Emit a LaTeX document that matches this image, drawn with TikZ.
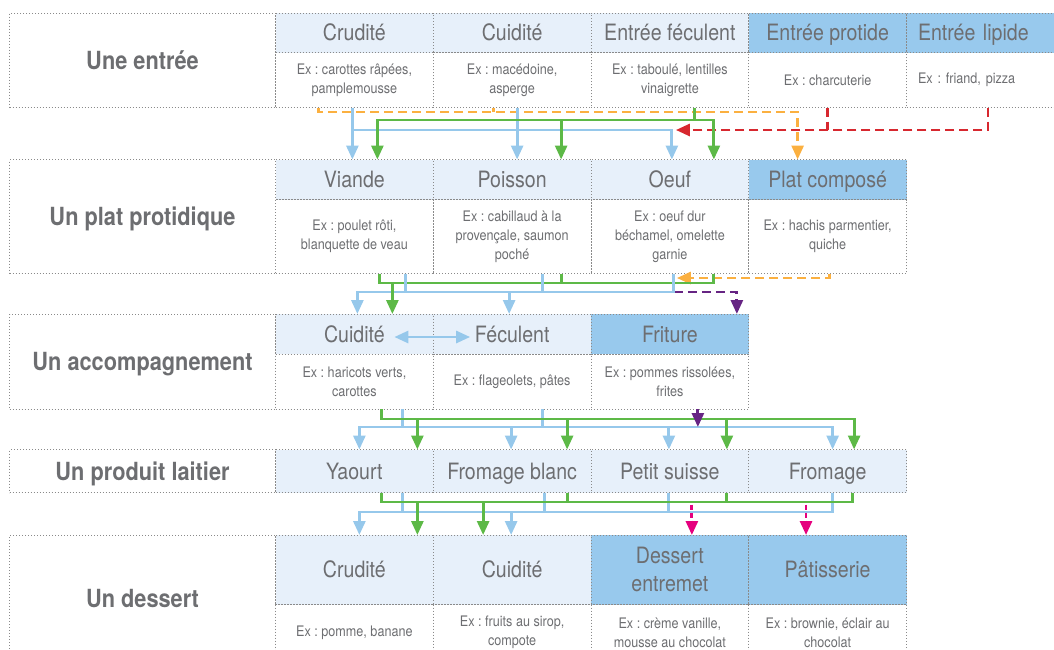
\documentclass[tikz,border=0pt]{standalone}
\usepackage{fontspec}
\setmainfont{TeX Gyre Heros}[FakeStretch=0.87]
\usetikzlibrary{arrows.meta, positioning}
\frenchspacing

\definecolor{txtgrey}{HTML}{6D6E71}
\definecolor{palecell}{HTML}{E7F0FA}
\definecolor{bluecell}{HTML}{98C9ED}
\definecolor{skyline}{HTML}{96C8EB}
\definecolor{grnline}{HTML}{5DB947}
\definecolor{orgline}{HTML}{FBB040}
\definecolor{redline}{HTML}{D7282F}
\definecolor{purpline}{HTML}{662483}
\definecolor{pinkline}{HTML}{E5007E}
\definecolor{dotgrey}{HTML}{8A8A8A}

\begin{document}
\begin{tikzpicture}[
    x=1pt, y=-1pt,
    cell/.style={rectangle, draw=dotgrey, line width=0.9pt, dash pattern=on 0.9pt off 2.1pt, inner sep=0pt, outer sep=0pt, minimum width=157.75pt, align=center, text=txtgrey},
    hd/.style={cell, fill=palecell, text height=21.2pt, text depth=5pt, font=\fontsize{22.5}{28}\selectfont},
    hdd/.style={hd, fill=bluecell},
    ex/.style={cell, font=\fontsize{14.5}{19}\selectfont},
    lab/.style={cell, anchor=north west, minimum width=266pt, text height=23.5pt, text depth=5.5pt, font=\fontsize{25}{30}\selectfont\bfseries},
    ln/.style={line width=2.8pt, >={Triangle[length=14pt,width=12pt]}},
    skyln/.style={ln, draw=skyline},
    grnln/.style={ln, draw=grnline},
    orgln/.style={ln, draw=orgline, dash pattern=on 9pt off 5pt},
    redln/.style={ln, draw=redline, dash pattern=on 9pt off 5pt},
    purln/.style={ln, draw=purpline, dash pattern=on 9pt off 5pt},
    pinkln/.style={ln, draw=pinkline, dash pattern=on 5pt off 3pt}
  ]
    \useasboundingbox (0,0) rectangle (1054,649);

    % Entree row
    \begin{scope}[hd/.append style={minimum height=39.5pt}, ex/.append style={minimum height=55pt}]
      \node[lab, minimum height=94.5pt] (entree) at (9.5,13) {Une entrée};
      \node[hd, anchor=north west] (crudA) at (275.5,13) {Crudité};
      \node[hd, right=0pt of crudA] (cuidA) {Cuidité};
      \node[hd, right=0pt of cuidA] (fecA) {Entrée féculent};
      \node[hdd, right=0pt of fecA] (protA) {Entrée protide};
      \node[hdd, right=0pt of protA, text width=134.75pt, inner xsep=11.5pt, align=left] (lipA) {Entrée lipide};
      \node[ex, below=0pt of crudA] (crudAx) {Ex : carottes râpées,\\pamplemousse};
      \node[ex, below=0pt of cuidA] (cuidAx) {Ex : macédoine,\\asperge};
      \node[ex, below=0pt of fecA] (fecAx) {Ex : taboulé, lentilles\\vinaigrette};
      \node[ex, below=0pt of protA] (protAx) {Ex : charcuterie};
      \node[ex, below=0pt of lipA, text width=134.75pt, inner xsep=11.5pt, align=left] (lipAx) {Ex : friand, pizza};
    \end{scope}

    % Plat row
    \begin{scope}[hd/.append style={minimum height=40pt}, ex/.append style={minimum height=74pt}]
      \node[lab, minimum height=114pt] (plat) at (9.5,159.5) {Un plat protidique};
      \node[hd, anchor=north west] (viande) at (275.5,159.5) {Viande};
      \node[hd, right=0pt of viande] (poisson) {Poisson};
      \node[hd, right=0pt of poisson] (oeuf) {Oeuf};
      \node[hdd, right=0pt of oeuf] (compose) {Plat composé};
      \node[ex, below=0pt of viande] (viandex) {Ex : poulet rôti,\\blanquette de veau};
      \node[ex, below=0pt of poisson] (poissonx) {Ex : cabillaud à la\\provençale, saumon\\poché};
      \node[ex, below=0pt of oeuf] (oeufx) {Ex : oeuf dur\\béchamel, omelette\\garnie};
      \node[ex, below=0pt of compose] (composex) {Ex : hachis parmentier,\\quiche};
    \end{scope}

    % Accompagnement row
    \begin{scope}[hd/.append style={minimum height=40pt}, ex/.append style={minimum height=55pt}]
      \node[lab, minimum height=95pt] (accomp) at (9.5,314) {Un accompagnement};
      \node[hd, anchor=north west] (cuidB) at (275.5,314) {Cuidité};
      \node[hd, right=0pt of cuidB] (fecB) {Féculent};
      \node[hdd, right=0pt of fecB] (friture) {Friture};
      \node[ex, below=0pt of cuidB] (cuidBx) {Ex : haricots verts,\\carottes};
      \node[ex, below=0pt of fecB] (fecBx) {Ex : flageolets, pâtes};
      \node[ex, below=0pt of friture] (fritx) {Ex : pommes rissolées,\\frites};
    \end{scope}

    % Laitier row
    \begin{scope}[hd/.append style={minimum height=43pt}]
      \node[lab, minimum height=43pt] (laitier) at (9.5,449.5) {Un produit laitier};
      \node[hd, anchor=north west] (yaourt) at (275.5,449.5) {Yaourt};
      \node[hd, right=0pt of yaourt] (fblanc) {Fromage blanc};
      \node[hd, right=0pt of fblanc] (psuisse) {Petit suisse};
      \node[hd, right=0pt of psuisse] (fromage) {Fromage};
    \end{scope}

    % Dessert row
    \begin{scope}[hd/.append style={minimum height=69.5pt}, ex/.append style={minimum height=56.5pt}]
      \node[lab, minimum height=126pt] (dessert) at (9.5,535) {Un dessert};
      \node[hd, anchor=north west] (crudC) at (275.5,535) {Crudité};
      \node[hd, right=0pt of crudC] (cuidC) {Cuidité};
      \node[hdd, right=0pt of cuidC, text height=, text depth=] (entremet) {Dessert\\entremet};
      \node[hdd, right=0pt of entremet] (patis) {Pâtisserie};
      \node[ex, below=0pt of crudC] (crudCx) {Ex : pomme, banane};
      \node[ex, below=0pt of cuidC] (cuidCx) {Ex : fruits au sirop,\\compote};
      \node[ex, below=0pt of entremet] (entremetx) {Ex : crème vanille,\\mousse au chocolat};
      \node[ex, below=0pt of patis] (patisx) {Ex : brownie, éclair au\\chocolat};
    \end{scope}

    % entree -> plat
    \draw[orgln] ([xshift=-19]cuidAx.south) -- ++(0,4.5);
    \draw[orgln, ->] ([xshift=-36]crudAx.south) -- ++(0,4.5) -| ([xshift=-30]compose.north);
    \draw[redln] (protAx.south) -- ++(0,22.5);
    \draw[redln, ->] ([xshift=2.6]lipAx.south) -- ++(0,22.5) -- ([xshift=6,yshift=29.5]oeuf.north);
    \draw[skyln, ->] ([xshift=-2]crudAx.south) -- ([xshift=-2]viande.north);
    \draw[skyln, ->] ([xshift=5]cuidAx.south) -- ([xshift=5]poisson.north);
    \draw[skyln, ->] ([xshift=-2]crudAx.south) -- ++(0,22.5) -| ([xshift=2]oeuf.north);
    \draw[grnln, ->] ([xshift=25]fecAx.south) -- ++(0,12.5) -| ([xshift=23]viande.north);
    \draw[grnln, ->] ([xshift=25]fecAx.south) -- ++(0,12.5) -| ([xshift=44]oeuf.north);
    \draw[grnln, ->] ([xshift=49,yshift=39.5]poisson.north) -- ([xshift=49]poisson.north);

    % plat -> accompagnement
    \draw[orgln, ->] ([xshift=2]composex.south) -- ++(0,4.5) -- ([xshift=7,yshift=-4.5]oeufx.south);
    \draw[purln, ->] ([xshift=4,yshift=-18.5]oeufx.south) -| ([xshift=67]friture.north);
    \draw[grnln] ([xshift=49]poissonx.south) -- ++(0,9.5);
    \draw[grnln] ([xshift=44]oeufx.south) -- ++(0,9.5) -| ([xshift=25]viandex.south);
    \draw[skyln] ([xshift=51]viandex.south) -- ++(0,18.5);
    \draw[skyln, ->] ([xshift=4]oeufx.south) -- ++(0,18.5) -| ([xshift=3]cuidB.north);
    \draw[skyln, ->] ([xshift=30]poissonx.south) -- ++(0,18.5) -| ([xshift=-3]fecB.north);
    \draw[grnln, ->] ([xshift=25]viandex.south) -- ++(0,9.5) -| ([xshift=38]cuidB.north);
    \draw[skyln, <->] ([xshift=40,yshift=-3]cuidB.center) -- ([xshift=-42,yshift=-3]fecB.center);

    % accompagnement -> laitier
    \draw[skyln, ->] ([xshift=48]cuidBx.south) -- ++(0,18) -| ([xshift=5]yaourt.north);
    \draw[skyln, ->] ([xshift=48]cuidBx.south) -- ++(0,18) -| ([xshift=5]fromage.north);
    \draw[skyln] ([xshift=30]fecBx.south) -- ++(0,18);
    \draw[skyln, ->] ([xshift=-1,yshift=22.5]fblanc.north) -- ([xshift=-1]fblanc.north);
    \draw[skyln, ->] ([xshift=-1,yshift=22.5]psuisse.north) -- ([xshift=-1]psuisse.north);
    \draw[grnln, ->] ([xshift=27]cuidBx.south) -- ++(0,10) -| ([xshift=26.5]fromage.north);
    \draw[grnln, ->] ([xshift=63,yshift=30.5]yaourt.north) -- ([xshift=63]yaourt.north);
    \draw[grnln, ->] ([xshift=55,yshift=30.5]fblanc.north) -- ([xshift=55]fblanc.north);
    \draw[grnln, ->] ([xshift=57,yshift=30.5]psuisse.north) -- ([xshift=57]psuisse.north);
    \draw[purln, solid, ->] ([xshift=28]fritx.south) -- ++(0,18);

    % laitier -> dessert
    \draw[skyln, ->] ([xshift=5]fromage.south) -- ++(0,19.5) -| ([xshift=5]crudC.north);
    \draw[skyln] ([xshift=48]yaourt.south) -- ++(0,19.5);
    \draw[skyln] ([xshift=-1]psuisse.south) -- ++(0,19.5);
    \draw[skyln, ->] ([xshift=32]fblanc.south) -- ++(0,19.5) -| ([xshift=-1]cuidC.north);
    \draw[grnln] ([xshift=25]fromage.south) -- ++(0,9.5) -| ([xshift=27]yaourt.south);
    \draw[grnln] ([xshift=57]psuisse.south) -- ++(0,9.5);
    \draw[grnln, ->] ([xshift=27]yaourt.south) -- ++(0,9.5) -| ([xshift=63]crudC.north);
    \draw[grnln, ->] ([xshift=55]fblanc.south) -- ++(0,9.5) -| ([xshift=-29]cuidC.north);
    \draw[pinkln, ->] ([xshift=22,yshift=-12]psuisse.south) -- ([xshift=22]entremet.north);
    \draw[pinkln, ->] ([xshift=-21.6,yshift=-12]fromage.south) -- ([xshift=-21.6]patis.north);
\end{tikzpicture}
\end{document}
